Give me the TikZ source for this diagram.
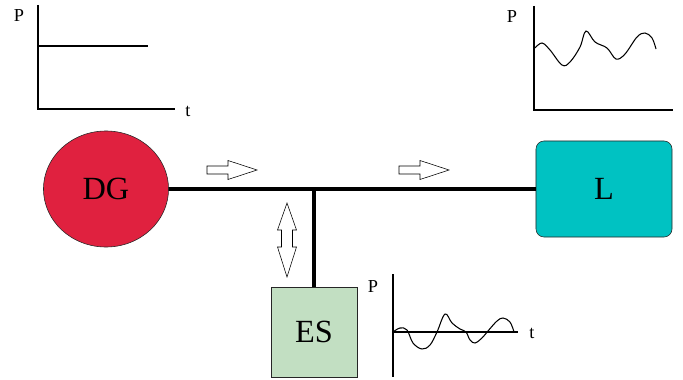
\documentclass[tikz,border=0pt]{standalone}
\usepackage{fontspec}
\setmainfont{Liberation Serif}
\usetikzlibrary{positioning,shapes.geometric}

\definecolor{dgred}{HTML}{E0213F}
\definecolor{loadteal}{HTML}{00C2C2}
\definecolor{esgreen}{HTML}{C2DFC2}

\begin{document}
\begin{tikzpicture}[
      x=0.025cm, y=-0.025cm,
      unit/.style={draw=black!85, thin, font=\fontsize{23}{26}\selectfont},
      axis/.style={line width=1pt},
      axlbl/.style={font=\fontsize{13}{15}\selectfont},
      bus/.style={line width=2.8pt},
      hollow/.style={draw, thin, fill=white},
      wave/.style={line width=0.75pt},
    ]
    \useasboundingbox (0,0) rectangle (683,380);

    % Units
    \node[unit, ellipse, fill=dgred, minimum width=3.125cm, minimum height=2.9cm] (dg) at (106,189) {DG};
    \node[unit, rectangle, rounded corners=0.2cm, fill=loadteal,
      minimum width=3.4cm, minimum height=2.4cm] (load) at (604,189) {L};
    \node[unit, rectangle, fill=esgreen, minimum width=2.15cm, minimum height=2.25cm] (es) at (314,332) {ES};

    % Bus
    \coordinate (tee) at (314,189);
    \draw[bus] (dg.east) -- (tee) -- (load.west);
    \draw[bus] (tee) -- (es.north);

    % Power flow arrows
    \foreach \x in {207, 399}
      \draw[hollow] (\x,166) -- ++(21,0) -- ++(0,-5.5) -- ++(29,9.5) -- ++(-29,9.5)
        -- ++(0,-5.5) -- ++(-21,0) -- cycle;
    \draw[hollow] (287,203) -- (296.5,230) -- (292.5,230) -- (292.5,247) -- (296.5,247)
      -- (287,277) -- (277.5,247) -- (281.5,247) -- (281.5,230) -- (277.5,230) -- cycle;

    % Plot of DG
    \node[axlbl] (pdg) at (19,16) {P};
    \node[axlbl] (tdg) at (188,111) {t};
    \draw[axis] (38,5) -- (38,109) -- (175,109);
    \draw[wave] (38,46) -- (148,46);

    % Plot of load
    \node[axlbl] (pload) at (512,17) {P};
    \draw[axis] (534,6) -- (534,110) -- (673,110);
    \draw[wave] plot[smooth, tension=0.6] coordinates {(535,48) (542,43) (550,50) (562,65)
      (570,62) (580,47) (586,31) (595,42) (607,48) (616,59) (625,54) (637,37) (645,33)
      (652,38) (656,49)};

    % Plot of storage
    \node[axlbl] (pes) at (373,287) {P};
    \node[axlbl] (tes) at (532,333) {t};
    \draw[axis] (393,274) -- (393,377);
    \draw[axis] (393,332) -- (518,332);
    \draw[wave] plot[smooth, tension=0.6] coordinates {(393,332) (400,328) (407,330) (413,343)
      (422,349) (430,345) (437,332) (445,314) (452,323) (460,329) (466,332) (470,340)
      (475,343) (482,338) (488,331) (497,321) (503,318) (510,322) (514,332)};
  \end{tikzpicture}
\end{document}
